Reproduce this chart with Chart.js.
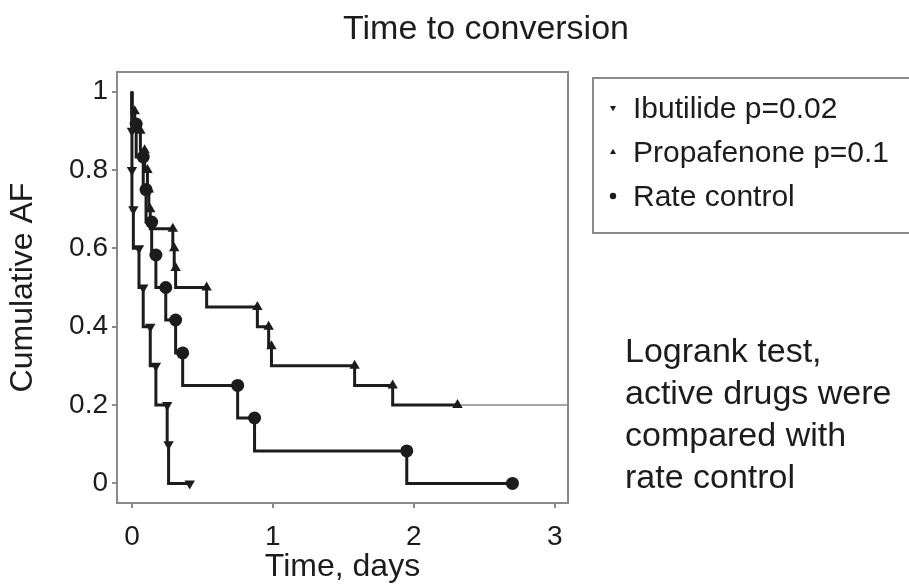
<!DOCTYPE html>
<html>
<head>
<meta charset="utf-8">
<script src="https://cdn.jsdelivr.net/npm/chart.js@4.4.1/dist/chart.umd.min.js"></script>
<style>
  body { margin: 0; background: #fff; }
  #wrap { width: 909px; height: 586px; }
</style>
</head>
<body>
<div id="wrap"><canvas id="kmChart" width="909" height="586"></canvas></div>
<script>
// Kaplan-Meier style curves
const xTicks = [0, 1, 2, 3];
const yTicks = [0, 0.2, 0.4, 0.6, 0.8, 1];

const ibutilideDays = [0, 0, 0, 0.01, 0.05, 0.08, 0.13, 0.17, 0.25, 0.26, 0.41];
const ibutilideAF   = [1, 0.9, 0.8, 0.7, 0.6, 0.5, 0.4, 0.3, 0.2, 0.1, 0];

const propafenoneDays = [0, 0.02, 0.06, 0.09, 0.11, 0.12, 0.13, 0.29, 0.30, 0.31, 0.53, 0.89, 0.97, 0.99, 1.58, 1.85, 2.31, 3.09];
const propafenoneAF   = [1, 0.95, 0.9, 0.85, 0.8, 0.75, 0.7, 0.65, 0.6, 0.55, 0.5, 0.45, 0.4, 0.35, 0.3, 0.25, 0.2, 0.2];

const rateDays = [0, 0.03, 0.08, 0.1, 0.14, 0.17, 0.24, 0.31, 0.36, 0.75, 0.87, 1.95, 2.7];
const rateAF   = [1, 0.917, 0.833, 0.75, 0.667, 0.583, 0.5, 0.417, 0.333, 0.25, 0.167, 0.083, 0];

const seriesLabels = ["Ibutilide p=0.02", "Propafenone p=0.1", "Rate control"];
const chartTitle = "Time to conversion";
const noteLines = ["Logrank test,", "active drugs were", "compared with", "rate control"];

const FONT = "'Liberation Sans', Arial, sans-serif";
const INK = "#1c1c1c";

function toPoints(days, af) {
    return days.map((d, i) => ({ x: d, y: af[i] }));
}

// hide the start point (and the censored tail end) markers
function markerRadius(size, lastHidden) {
    return ctx => {
        const n = ctx.dataset.data.length;
        if (ctx.dataIndex === 0) return 0;
        if (lastHidden && ctx.dataIndex === n - 1) return 0;
        return size;
    };
}

function drawMarker(ctx, style, x, y, r, rotation) {
    ctx.beginPath();
    if (style === "circle") {
        ctx.arc(x, y, r, 0, Math.PI * 2);
    } else {
        const dir = rotation === 180 ? -1 : 1;
        ctx.moveTo(x, y - dir * r);
        ctx.lineTo(x + r * 0.95, y + dir * r * 0.6);
        ctx.lineTo(x - r * 0.95, y + dir * r * 0.6);
        ctx.closePath();
    }
    ctx.fill();
}

const extrasPlugin = {
    id: "extras",
    afterDraw(chart) {
        const ctx = chart.ctx;
        const area = chart.chartArea;
        ctx.save();

        // frame around the plot
        ctx.strokeStyle = "#8a8a8a";
        ctx.lineWidth = 2;
        ctx.strokeRect(area.left, area.top, area.right - area.left, area.bottom - area.top);

        // title
        ctx.fillStyle = INK;
        ctx.font = "34px " + FONT;
        ctx.textAlign = "center";
        ctx.textBaseline = "alphabetic";
        ctx.fillText(chartTitle, 486, 39);

        // legend box (runs off the right edge like the original)
        ctx.strokeStyle = "#8a8a8a";
        ctx.lineWidth = 2;
        ctx.strokeRect(593, 78, 340, 155);
        ctx.font = "30px " + FONT;
        ctx.textAlign = "left";
        chart.data.datasets.forEach((ds, i) => {
            const base = 118 + i * 44;
            ctx.fillStyle = INK;
            ctx.fillText(ds.label, 633, base);
            drawMarker(ctx, ds.pointStyle, 613, base - 10, 3.2, ds.pointRotation || 0);
        });

        // note text
        ctx.font = "34px " + FONT;
        noteLines.forEach((line, i) => {
            ctx.fillText(line, 625, 362 + i * 42);
        });
        ctx.restore();
    }
};

const ctx = document.getElementById("kmChart").getContext("2d");

new Chart(ctx, {
    type: "line",
    data: {
        datasets: [
            {
                label: seriesLabels[0],
                data: toPoints(ibutilideDays, ibutilideAF),
                stepped: "after",
                borderColor: INK,
                backgroundColor: INK,
                borderWidth: 3,
                pointStyle: "triangle",
                pointRotation: 180,
                pointRadius: markerRadius(6, false),
                pointBorderWidth: 0
            },
            {
                label: seriesLabels[1],
                data: toPoints(propafenoneDays, propafenoneAF),
                stepped: "after",
                borderColor: INK,
                backgroundColor: INK,
                borderWidth: 3,
                pointStyle: "triangle",
                pointRadius: markerRadius(6, true),
                pointBorderWidth: 0,
                segment: {
                    // censored tail drawn thin and grey
                    borderWidth: c => c.p1DataIndex === propafenoneDays.length - 1 ? 1.5 : 3,
                    borderColor: c => c.p1DataIndex === propafenoneDays.length - 1 ? "#8a8a8a" : INK
                }
            },
            {
                label: seriesLabels[2],
                data: toPoints(rateDays, rateAF),
                stepped: "after",
                borderColor: INK,
                backgroundColor: INK,
                borderWidth: 3,
                pointStyle: "circle",
                pointRadius: markerRadius(6.5, false),
                pointBorderWidth: 0
            }
        ]
    },
    options: {
        responsive: false,
        animation: false,
        devicePixelRatio: 1,
        layout: {
            padding: { top: 72, right: 341, bottom: 0, left: 0 }
        },
        plugins: {
            legend: { display: false },
            title: { display: false },
            tooltip: { enabled: false }
        },
        scales: {
            x: {
                type: "linear",
                min: -0.106,
                max: 3.094,
                afterFit: s => { s.height = 83; },
                afterBuildTicks: s => { s.ticks = xTicks.map(v => ({ value: v })); },
                border: { display: false },
                grid: { drawOnChartArea: false, drawTicks: true, tickLength: 5, color: "#8a8a8a", lineWidth: 2 },
                ticks: {
                    color: INK,
                    padding: 12,
                    font: { family: FONT, size: 28 },
                    callback: v => String(v)
                },
                title: {
                    display: true,
                    text: "Time, days",
                    color: INK,
                    padding: { top: 0, bottom: 0 },
                    font: { family: FONT, size: 32 }
                }
            },
            y: {
                type: "linear",
                min: -0.05,
                max: 1.05,
                afterFit: s => { s.width = 117; },
                afterBuildTicks: s => { s.ticks = yTicks.map(v => ({ value: v })); },
                border: { display: false },
                grid: { drawOnChartArea: false, drawTicks: true, tickLength: 5, color: "#8a8a8a", lineWidth: 2 },
                ticks: {
                    color: INK,
                    padding: 4,
                    font: { family: FONT, size: 28 },
                    callback: v => String(v)
                },
                title: {
                    display: true,
                    text: "Cumulative AF",
                    color: INK,
                    padding: { top: 4, bottom: 0 },
                    font: { family: FONT, size: 32 }
                }
            }
        }
    },
    plugins: [extrasPlugin]
});
</script>
</body>
</html>
